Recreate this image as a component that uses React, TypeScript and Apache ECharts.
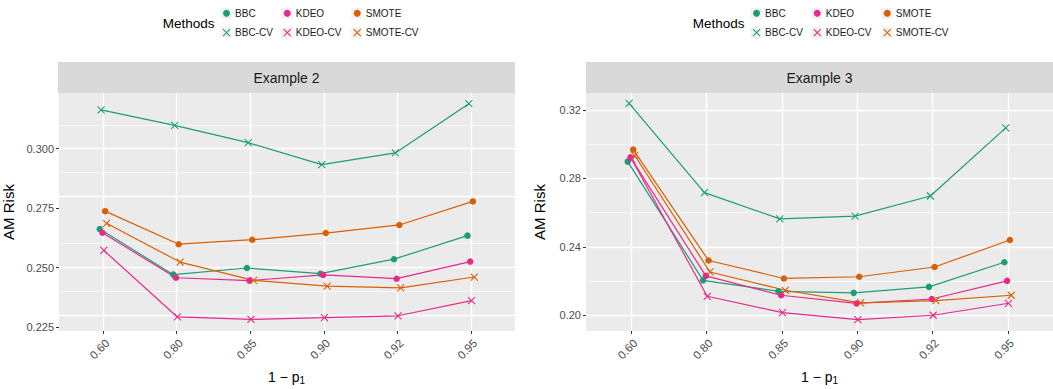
import React, { useEffect, useRef } from "react";
import * as echarts from "echarts";

const xLabels = ["0.60", "0.80", "0.85", "0.90", "0.92", "0.95"];
const methods = ["BBC", "BBC-CV", "KDEO", "KDEO-CV", "SMOTE", "SMOTE-CV"];
const methodColors = ["#1B9E77", "#1B9E77", "#E7298A", "#E7298A", "#D95F02", "#D95F02"];

// Example 2
const ex2BBC = [0.2662, 0.247, 0.2498, 0.2474, 0.2535, 0.2634];
const ex2BBCCV = [0.3163, 0.3098, 0.3025, 0.2933, 0.2982, 0.3189];
const ex2KDEO = [0.2646, 0.2457, 0.2445, 0.2469, 0.2453, 0.2525];
const ex2KDEOCV = [0.2572, 0.2292, 0.2282, 0.2289, 0.2297, 0.2361];
const ex2SMOTE = [0.2737, 0.2598, 0.2617, 0.2645, 0.2679, 0.2778];
const ex2SMOTECV = [0.2686, 0.2523, 0.2446, 0.2422, 0.2414, 0.246];

// Example 3
const ex3BBC = [0.2898, 0.2204, 0.214, 0.2131, 0.2166, 0.231];
const ex3BBCCV = [0.3239, 0.2717, 0.2563, 0.2579, 0.2697, 0.3095];
const ex3KDEO = [0.2923, 0.223, 0.2117, 0.2069, 0.2095, 0.2201];
const ex3KDEOCV = [0.291, 0.2111, 0.2015, 0.1975, 0.2, 0.207];
const ex3SMOTE = [0.2968, 0.232, 0.2215, 0.2225, 0.2282, 0.244];
const ex3SMOTECV = [0.2935, 0.2253, 0.2146, 0.2072, 0.2086, 0.2117];

const ex2Ticks = [0.225, 0.25, 0.275, 0.3];
const ex2Minor = [0.2375, 0.2625, 0.2875, 0.3125];
const ex3Ticks = [0.2, 0.24, 0.28, 0.32];
const ex3Minor = [0.22, 0.26, 0.3];

const panels = [
  { title: "Example 2", data: [ex2BBC, ex2BBCCV, ex2KDEO, ex2KDEOCV, ex2SMOTE, ex2SMOTECV], ticks: ex2Ticks, minor: ex2Minor, min: 0.2233, max: 0.3234, digits: 3 },
  { title: "Example 3", data: [ex3BBC, ex3BBCCV, ex3KDEO, ex3KDEOCV, ex3SMOTE, ex3SMOTECV], ticks: ex3Ticks, minor: ex3Minor, min: 0.1908, max: 0.3299, digits: 2 },
];

const CROSS = "path://M0,0L10,10M10,0L0,10";
const FONT = "'Liberation Sans', Arial, Helvetica, sans-serif";

export default function App() {
  const ref = useRef<HTMLDivElement>(null);
  useEffect(() => {
    if (!ref.current) return;
    const chart = echarts.init(ref.current, undefined, { renderer: "svg" });

    const gridsPx = [
      { left: 58, top: 93, width: 457, height: 238 },
      { left: 586, top: 93, width: 467, height: 238 },
    ];
    const legendOffsets = [0, 530];
    const catIdx = xLabels.map((_, i) => i);
    const dodge = 0.11;

    const grid: any[] = [];
    const xAxis: any[] = [];
    const yAxis: any[] = [];
    const series: any[] = [];
    const legend: any[] = [];
    const graphic: any[] = [];

    panels.forEach((p, pi) => {
      const g = gridsPx[pi];
      grid.push({ ...g, show: true, backgroundColor: "#EBEBEB", borderWidth: 0 });
      xAxis.push({
        gridIndex: pi,
        type: "value",
        min: -0.6,
        max: 5.6,
        axisLine: { show: false, onZero: false },
        axisTick: { show: true, length: 3, customValues: catIdx, lineStyle: { color: "#333333", width: 1 } },
        axisLabel: {
          customValues: catIdx,
          formatter: (v: number) => xLabels[Math.round(v)],
          rotate: 45,
          verticalAlign: "top",
          color: "#4D4D4D",
          fontSize: 11.5,
          margin: 6,
          fontFamily: FONT,
        },
        splitLine: { show: false },
      });
      yAxis.push({
        gridIndex: pi,
        type: "value",
        min: p.min,
        max: p.max,
        axisLine: { show: false, onZero: false },
        axisTick: { show: true, length: 3, customValues: p.ticks, lineStyle: { color: "#333333", width: 1 } },
        axisLabel: {
          customValues: p.ticks,
          formatter: (v: number) => v.toFixed(p.digits),
          color: "#4D4D4D",
          fontSize: 11,
          margin: 5,
          fontFamily: FONT,
        },
        splitLine: { show: false },
        name: "AM Risk",
        nameLocation: "middle",
        nameGap: pi === 0 ? 43 : 39,
        nameTextStyle: { fontSize: 15, color: "#000000", fontFamily: FONT },
      });

      // panel grid lines (ggplot white major/minor lines) drawn as markLines of a background series
      series.push({
        name: "grid" + pi,
        type: "line",
        xAxisIndex: pi,
        yAxisIndex: pi,
        data: [],
        z: 0,
        silent: true,
        markLine: {
          silent: true,
          z: 0,
          symbol: "none",
          animation: false,
          label: { show: false },
          emphasis: { disabled: true },
          data: [
            ...p.minor.map((v) => ({ yAxis: v, lineStyle: { color: "#FFFFFF", width: 0.7, type: "solid" } })),
            ...p.ticks.map((v) => ({ yAxis: v, lineStyle: { color: "#FFFFFF", width: 1.4, type: "solid" } })),
            ...catIdx.map((v) => ({ xAxis: v, lineStyle: { color: "#FFFFFF", width: 1.4, type: "solid" } })),
          ],
        },
      });

      methods.forEach((m, k) => {
        const c = methodColors[k];
        const isCV = m.endsWith("-CV");
        const off = (k - 2.5) * (dodge / 6);
        series.push({
          name: m,
          type: "line",
          xAxisIndex: pi,
          yAxisIndex: pi,
          data: p.data[k].map((v, i) => [i + off, v]),
          symbol: isCV ? CROSS : "circle",
          symbolSize: isCV ? 7 : 6.5,
          showSymbol: true,
          lineStyle: { color: c, width: 1.2 },
          itemStyle: isCV ? { color: c, borderColor: c, borderWidth: 1.1 } : { color: c, borderWidth: 0 },
          emphasis: { disabled: true },
          silent: true,
          z: 3,
        });
      });

      // strip
      graphic.push({
        type: "rect",
        shape: { x: g.left, y: 62, width: g.width, height: 31 },
        style: { fill: "#D9D9D9" },
        silent: true,
      });
      graphic.push({
        type: "text",
        x: g.left + g.width / 2,
        y: 77.5,
        style: { text: p.title, fill: "#1A1A1A", fontSize: 14, fontFamily: FONT, align: "center", verticalAlign: "middle" },
        silent: true,
      });
      // x axis title
      graphic.push({
        type: "text",
        x: g.left + g.width / 2,
        y: 377,
        style: {
          text: "1 \u2212 p{s|1}",
          fill: "#000000",
          fontSize: 14,
          fontFamily: FONT,
          align: "center",
          verticalAlign: "middle",
          rich: { s: { fontSize: 10, fontFamily: FONT, fill: "#000000", padding: [7, 0, 0, 0] } },
        },
        silent: true,
      });

      // legend
      const ox = legendOffsets[pi];
      graphic.push({
        type: "text",
        x: 162.7 + ox,
        y: 23.5,
        style: { text: "Methods", fill: "#000000", fontSize: 13.5, fontFamily: FONT, align: "left", verticalAlign: "middle" },
        silent: true,
      });
      const keyCenters = [226, 286.7, 356.7];
      const rowCenters = [13.3, 32.7];
      const cols = [["BBC", "BBC-CV"], ["KDEO", "KDEO-CV"], ["SMOTE", "SMOTE-CV"]];
      cols.forEach((names, ci) => {
        const cx = keyCenters[ci] + ox;
        rowCenters.forEach((cy) => {
          graphic.push({
            type: "rect",
            shape: { x: cx - 5.5, y: cy - 5.5, width: 11, height: 11 },
            style: { fill: "#F2F2F2" },
            silent: true,
            z: 0,
          });
        });
        legend.push({
          left: cx - 3.5,
          top: 13.3 - 6,
          orient: "vertical",
          padding: 0,
          itemGap: 7.4,
          itemWidth: 7,
          itemHeight: 7,
          selectedMode: false,
          textStyle: { fontSize: 10, color: "#1A1A1A", lineHeight: 12, fontFamily: FONT },
          data: names.map((n) => {
            const k = methods.indexOf(n);
            const c = methodColors[k];
            const isCV = n.endsWith("-CV");
            return {
              name: n,
              icon: isCV ? CROSS : "circle",
              itemStyle: isCV ? { color: c, borderColor: c, borderWidth: 1.1 } : { color: c, borderWidth: 0 },
            };
          }),
          z: 5,
        });
      });
    });

    chart.setOption({
      animation: false,
      textStyle: { fontFamily: FONT },
      grid,
      xAxis,
      yAxis,
      series,
      legend,
      graphic,
    });
    return () => chart.dispose();
  }, []);

  return <div ref={ref} style={{ position: "absolute", left: 0, top: 0, width: 1053, height: 389 }} />;
}
